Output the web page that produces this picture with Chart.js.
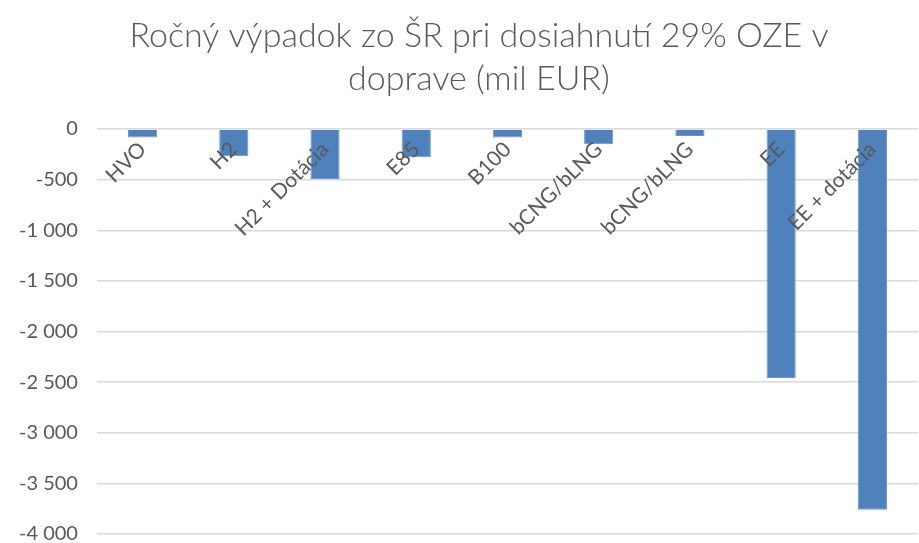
<!DOCTYPE html>
<html>
<head>
<meta charset="utf-8">
<script src="https://cdn.jsdelivr.net/npm/chart.js@4"></script>
<style>
  html, body { margin: 0; padding: 0; background: #fff; overflow: hidden; }
  #wrap { width: 919px; height: 565px; }
</style>
</head>
<body>
<div id="wrap"><canvas id="chart"></canvas></div>
<script>
// categories and values (mil EUR)
const categories = ['HVO', 'H2', 'H2 + Dotácia', 'E85', 'B100', 'bCNG/bLNG', 'bCNG/bLNG', 'EE', 'EE + dotácia'];
const values = [-85, -270, -495, -280, -85, -150, -70, -2460, -3760];
const titleLines = ['Ročný výpadok zo ŠR pri dosiahnutí 29% OZE v', 'doprave (mil EUR)'];

const textColor = '#595959';

// y tick labels use a space as thousands separator
function fmt(v) {
  const s = Math.abs(v).toString().replace(/\B(?=(\d{3})+(?!\d))/g, ' ');
  return (v < 0 ? '-' : '') + s;
}

// title in the original sits a bit right of the canvas centre
const shiftTitle = {
  id: 'shiftTitle',
  afterLayout(chart) {
    const t = chart.titleBlock;
    if (t) { t.left += 20; t.right += 20; }
  }
};

new Chart(document.getElementById('chart'), {
  type: 'bar',
  data: {
    labels: categories,
    datasets: [{
      data: values,
      backgroundColor: '#4f81bd',
      borderColor: '#6d97cc',
      borderWidth: 1,
      barPercentage: 0.32,
      categoryPercentage: 1
    }]
  },
  options: {
    responsive: true,
    maintainAspectRatio: false,
    animation: false,
    layout: { padding: { left: 0, right: 1, top: 0, bottom: 0 } },
    plugins: {
      legend: { display: false },
      tooltip: { enabled: false },
      title: {
        display: true,
        text: titleLines,
        color: textColor,
        font: { family: 'Lato', size: 34, weight: 300, lineHeight: 1.25 },
        padding: { top: 15, bottom: 29 }
      }
    },
    scales: {
      x: {
        position: { y: 0 },
        grid: { display: false },
        border: { display: false },
        ticks: {
          z: 1,
          color: textColor,
          font: { family: 'Lato', size: 21 },
          minRotation: 45,
          maxRotation: 45,
          padding: 0
        }
      },
      y: {
        min: -4000,
        max: 0,
        grid: { color: '#d9d9d9', lineWidth: 1.5, drawTicks: false },
        border: { display: false },
        ticks: {
          stepSize: 500,
          color: textColor,
          font: { family: 'Lato', size: 20 },
          padding: 19,
          callback: (v) => fmt(v)
        }
      }
    }
  },
  plugins: [shiftTitle]
});
</script>
</body>
</html>
